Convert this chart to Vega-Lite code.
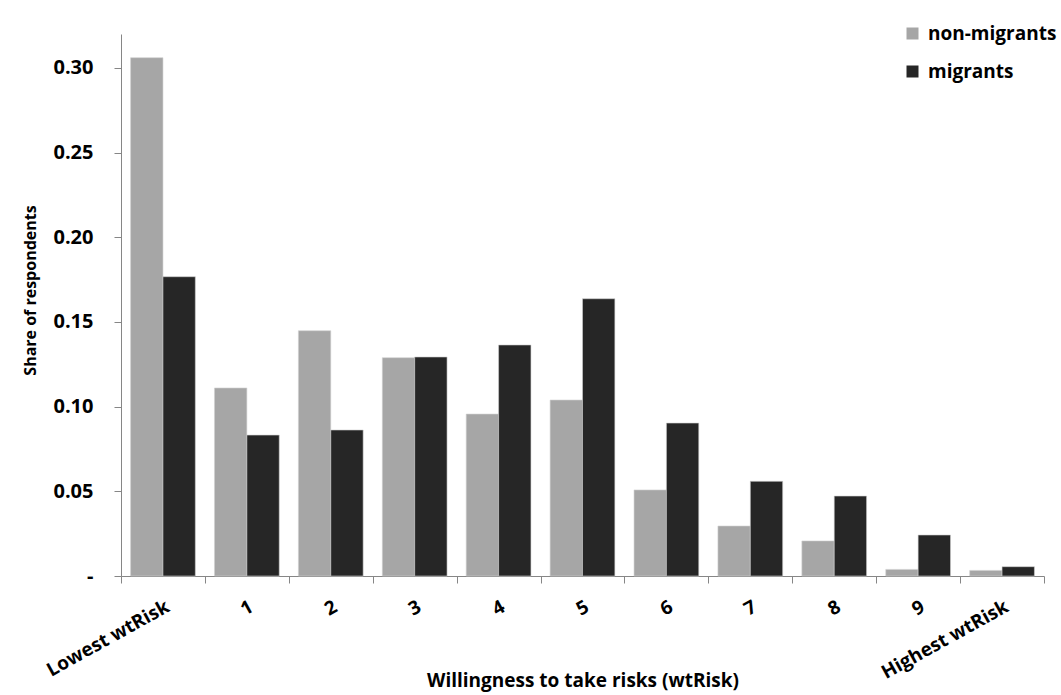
{
  "$schema": "https://vega.github.io/schema/vega-lite/v6.json",
  "autosize": {"type": "none"},
  "width": 923,
  "height": 542,
  "padding": {"left": 121, "top": 34, "right": 17, "bottom": 119},
  "background": "white",
  "data": {
    "values": [
      {"level": "Lowest wtRisk", "group": "non-migrants", "share": 0.306},
      {"level": "Lowest wtRisk", "group": "migrants", "share": 0.1767},
      {"level": "1", "group": "non-migrants", "share": 0.111},
      {"level": "1", "group": "migrants", "share": 0.0832},
      {"level": "2", "group": "non-migrants", "share": 0.1448},
      {"level": "2", "group": "migrants", "share": 0.0862},
      {"level": "3", "group": "non-migrants", "share": 0.1289},
      {"level": "3", "group": "migrants", "share": 0.1293},
      {"level": "4", "group": "non-migrants", "share": 0.0956},
      {"level": "4", "group": "migrants", "share": 0.1364},
      {"level": "5", "group": "non-migrants", "share": 0.1039},
      {"level": "5", "group": "migrants", "share": 0.1637},
      {"level": "6", "group": "non-migrants", "share": 0.0508},
      {"level": "6", "group": "migrants", "share": 0.0903},
      {"level": "7", "group": "non-migrants", "share": 0.0295},
      {"level": "7", "group": "migrants", "share": 0.0559},
      {"level": "8", "group": "non-migrants", "share": 0.0207},
      {"level": "8", "group": "migrants", "share": 0.0472},
      {"level": "9", "group": "non-migrants", "share": 0.0039},
      {"level": "9", "group": "migrants", "share": 0.0242},
      {"level": "Highest wtRisk", "group": "non-migrants", "share": 0.0033},
      {"level": "Highest wtRisk", "group": "migrants", "share": 0.0055}
    ]
  },
  "mark": {"type": "bar", "stroke": "#d0d0d0", "strokeWidth": 0.6},
  "encoding": {
    "x": {
      "field": "level",
      "type": "nominal",
      "sort": ["Lowest wtRisk", "1", "2", "3", "4", "5", "6", "7", "8", "9", "Highest wtRisk"],
      "scale": {"paddingInner": 0, "paddingOuter": 0},
      "axis": {
        "title": "Willingness to take risks (wtRisk)",
        "titleFont": "Open Sans",
        "titleFontSize": 19,
        "titleFontWeight": "bold",
        "titleColor": "#000000",
        "titleY": 104,
        "titleBaseline": "middle",
        "labelFont": "Open Sans",
        "labelFontSize": 19,
        "labelFontWeight": "bold",
        "labelColor": "#000000",
        "labelAngle": -29,
        "labelPadding": 14,
        "tickBand": "extent",
        "tickSize": 7,
        "tickColor": "#868686",
        "domainColor": "#868686",
        "grid": false
      }
    },
    "xOffset": {
      "field": "group",
      "type": "nominal",
      "sort": ["non-migrants", "migrants"],
      "scale": {"paddingInner": 0, "paddingOuter": 0.296}
    },
    "y": {
      "field": "share",
      "type": "quantitative",
      "scale": {"domain": [0, 0.32], "nice": false},
      "axis": {
        "title": "Share of respondents",
        "titleFont": "Open Sans",
        "titleFontSize": 16,
        "titleFontWeight": "bold",
        "titleColor": "#000000",
        "titleX": -91,
        "titleY": 256,
        "titleBaseline": "middle",
        "values": [0, 0.05, 0.1, 0.15, 0.2, 0.25, 0.3],
        "labelExpr": "datum.value == 0 ? '-' : format(datum.value, '.2f')",
        "labelFont": "Open Sans",
        "labelFontSize": 20,
        "labelFontWeight": "bold",
        "labelColor": "#000000",
        "labelPadding": 21,
        "tickSize": 7,
        "tickColor": "#868686",
        "domainColor": "#868686",
        "grid": false
      }
    },
    "color": {
      "field": "group",
      "type": "nominal",
      "scale": {"domain": ["non-migrants", "migrants"], "range": ["#A6A6A6", "#262626"]},
      "legend": {
        "title": null,
        "orient": "none",
        "legendX": 782,
        "legendY": -10,
        "symbolType": "square",
        "symbolSize": 144,
        "symbolStrokeWidth": 0,
        "labelFont": "Open Sans",
        "labelFontSize": 19,
        "labelFontWeight": "bold",
        "labelColor": "#000000",
        "labelOffset": 6,
        "rowPadding": 18
      }
    }
  },
  "config": {"view": {"stroke": null}}
}
